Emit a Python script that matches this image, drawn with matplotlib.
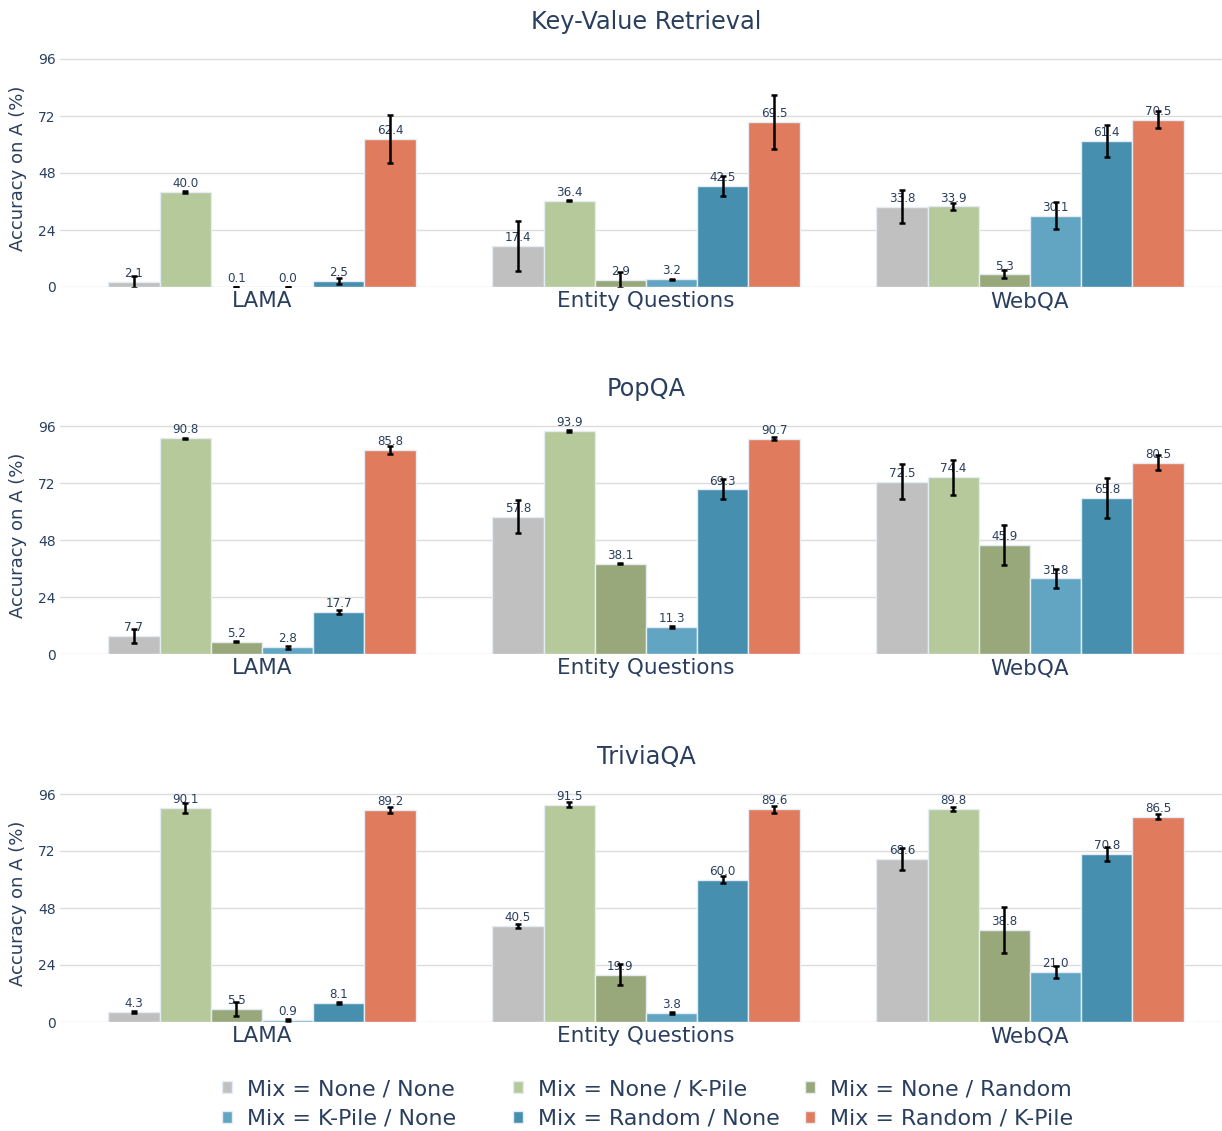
import numpy as np
import matplotlib
matplotlib.use("Agg")
import matplotlib.pyplot as plt

# --- data ---
categories = ["LAMA", "Entity Questions", "WebQA"]
series_names = ["Mix = None / None", "Mix = None / K-Pile", "Mix = None / Random",
                "Mix = K-Pile / None", "Mix = Random / None", "Mix = Random / K-Pile"]
colors = ["#c0c0c0", "#b6c99a", "#98a87b", "#62a5c2", "#478faf", "#e07b5e"]
panel_titles = ["Key-Value Retrieval", "PopQA", "TriviaQA"]

# values[series][category]
kv_values = [[2.1, 17.4, 33.8], [40.0, 36.4, 33.9], [0.1, 2.9, 5.3],
             [0.0, 3.2, 30.1], [2.5, 42.5, 61.4], [62.4, 69.5, 70.5]]
kv_errors = [[2.4, 10.5, 7.0], [0.3, 0.3, 1.5], [0.1, 3.5, 1.7],
             [0.0, 0.3, 5.8], [1.4, 4.3, 6.7], [10.1, 11.4, 3.6]]

pop_values = [[7.7, 57.8, 72.5], [90.8, 93.9, 74.4], [5.2, 38.1, 45.9],
              [2.8, 11.3, 31.8], [17.7, 69.3, 65.8], [85.8, 90.7, 80.5]]
pop_errors = [[3.0, 6.9, 7.4], [0.3, 0.3, 7.3], [0.3, 0.2, 8.4],
              [0.5, 0.4, 4.2], [0.9, 4.2, 8.4], [1.75, 0.5, 3.2]]

tqa_values = [[4.3, 40.5, 68.6], [90.1, 91.5, 89.8], [5.5, 19.9, 38.8],
              [0.9, 3.8, 21.0], [8.1, 60.0, 70.8], [89.2, 89.6, 86.5]]
tqa_errors = [[0.5, 0.8, 4.8], [2.1, 1.0, 0.9], [2.9, 4.4, 9.6],
              [0.3, 0.5, 2.5], [0.5, 1.4, 2.9], [1.3, 1.4, 1.05]]

yticks = [0, 24, 48, 72, 96]

panels = [(kv_values, kv_errors), (pop_values, pop_errors), (tqa_values, tqa_errors)]

TXT = "#2a3f5f"
W, H = 1222, 1131
fig = plt.figure(figsize=(W / 100, H / 100), dpi=100)

# pixel positions of zero line for each panel
zero_px = [287, 654, 1022]
px_per_unit = 2.375
left_px, right_px = 60, 1222

n_series = len(series_names)
bw = 0.8 / n_series
x = np.arange(len(categories))
handles = []

for p, ((vals, errs), title, z) in enumerate(zip(panels, panel_titles, zero_px)):
    top_px = z - 100 * px_per_unit
    ax = fig.add_axes([left_px / W, 1 - z / H, (right_px - left_px) / W, (z - top_px) / H])
    for i in range(n_series):
        xs = x - 0.4 + bw * (i + 0.5)
        bars = ax.bar(xs, vals[i], width=bw, color=colors[i], edgecolor="#e5ecf6",
                      linewidth=1, zorder=2, label=series_names[i])
        ax.errorbar(xs, vals[i], yerr=errs[i], fmt="none", ecolor="black",
                    elinewidth=1.8, capsize=2.5, capthick=1.8, zorder=4)
        for xx, v in zip(xs, vals[i]):
            ax.text(xx, v + 0.8, f"{v:.1f}", ha="center", va="bottom",
                    fontsize=8.6, color=TXT, zorder=3)
        if p == 0:
            handles.append(bars)
    ax.set_xlim((left_px - 262) / 384, (right_px - 262) / 384)
    ax.set_ylim(0, 100)
    ax.set_yticks(yticks)
    ax.set_xticks(x)
    ax.set_xticklabels(categories, fontsize=15.5, color=TXT)
    ax.tick_params(axis="y", labelsize=10, colors=TXT, length=0, pad=3)
    ax.tick_params(axis="x", length=0, pad=3)
    ax.grid(axis="y", color="#dcdcdc", linewidth=1, zorder=0)
    ax.set_axisbelow(True)
    for s in ax.spines.values():
        s.set_visible(False)
    ax.set_ylabel("Accuracy on A (%)", fontsize=13, color=TXT, labelpad=8)
    ax.set_title(title, fontsize=17.3, color=TXT, pad=15, x=(646 - left_px) / (right_px - left_px))

# legend: three fixed-width columns, two rows each
col_px = [222, 513, 805]
for c, cx in enumerate(col_px):
    idx = [c, c + 3]
    leg = fig.legend([handles[i] for i in idx], [series_names[i] for i in idx],
                     loc="center left", bbox_to_anchor=(cx / W, 1 - 1104 / H),
                     frameon=False, fontsize=15.9, handlelength=0.45, handleheight=0.45,
                     handletextpad=0.7, labelspacing=0.45, borderpad=0, borderaxespad=0)
    for t in leg.get_texts():
        t.set_color(TXT)

fig.savefig("out.png", dpi=100)
